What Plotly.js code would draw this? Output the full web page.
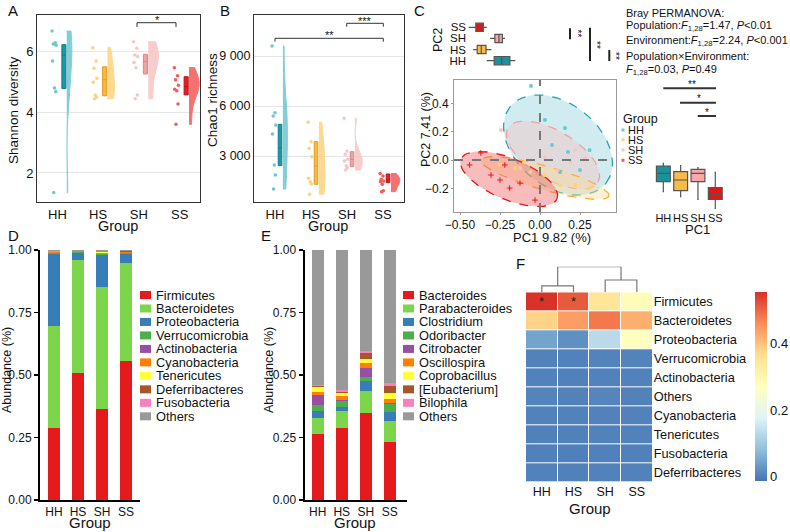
<!DOCTYPE html>
<html><head><meta charset="utf-8">
<script src="https://cdn.plot.ly/plotly-3.0.1.min.js"></script>
<style>body{margin:0;background:#fff}#chart{width:790px;height:532px}</style>
</head><body><div id="chart"></div>
<script>
// ---------------- DATA ----------------
const groups = ['HH','HS','SH','SS'];

// Panel A: Shannon diversity (per-sample values)
const shannonHH = [6.69,6.30,6.26,6.22,5.70,4.81,4.68,1.35];
const shannonHS = [6.14,5.70,5.46,5.13,5.00,4.58,4.50,4.45];
const shannonSH = [6.34,6.12,5.90,5.85,5.65,5.48,4.58,4.45];
const shannonSS = [5.48,5.21,5.08,4.90,4.77,4.72,4.28,3.61];
// Panel A box statistics
const shannonQ1  = [4.79,4.55,5.27,4.58];
const shannonMed = [5.90,5.08,5.68,4.85];
const shannonQ3  = [6.24,5.51,5.92,5.18];

// Panel B: Chao1 richness
const chaoHH = [9600,5600,5400,4860,4320,2460,1860,1020];
const chaoHS = [5020,3860,3460,2960,1660,1460,1320,700];
const chaoSH = [5260,3300,3100,2800,2700,2420,2300,2160];
const chaoSS = [1950,1800,1600,1500,1460,1300,920,860];
const chaoQ1  = [2420,1300,2360,1400];
const chaoMed = [3500,2400,2800,1600];
const chaoQ3  = [4900,3860,3260,1920];

// Panel C: PCoA sample scores
const pc1HH = [-0.056,0.156,0.075,0.25,0.175,0.031,0.31,0.125];
const pc2HH = [0.523,0.226,0.106,-0.071,0.057,0.283,0.07,-0.085];
const pc1HS = [-0.25,-0.156,-0.06,0.03,0.125,0.22,0.31,-0.094];
const pc2HS = [-0.035,-0.057,-0.085,-0.106,-0.177,-0.177,-0.198,-0.014];
const pc1SH = [-0.244,-0.19,0.03,0.19,0.22,0.11,-0.125,0.28];
const pc2SH = [0.212,0.11,0.02,-0.014,0.07,-0.07,-0.057,0.014];
const pc1SS = [-0.37,-0.306,-0.25,-0.19,-0.125,-0.031,-0.44,-0.22];
const pc2SS = [0.05,-0.106,-0.141,-0.198,-0.163,-0.283,-0.035,-0.035];
// confidence ellipses (centre, semi-axis vectors) for HH, HS, SH, SS
const ellCx = [0.1125,0.031,0.081,-0.194];
const ellCy = [0.106,-0.127,0.035,-0.134];
const ellAx = [0.300,0.400,0.281,0.300];
const ellAy = [-0.269,-0.127,-0.191,-0.141];
const ellBx = [0.161,0.020,0.077,0.049];
const ellBy = [0.230,0.081,0.146,0.134];
// marginal boxes (top: "PC2", right: "PC1"), relative units
const topLow = [0.29,0.09,0.34,0.025], topQ1=[0.40,0.15,0.41,0.13], topMed=[0.51,0.21,0.47,0.19], topQ3=[0.63,0.28,0.52,0.24], topHigh=[0.71,0.36,0.56,0.29];
const rgtLow = [0.366,0.266,0.214,0.034], rgtQ1=[0.566,0.386,0.566,0.214], rgtMed=[0.734,0.60,0.734,0.314], rgtQ3=[0.88,0.766,0.814,0.446], rgtHigh=[0.934,0.886,0.846,0.754];

// Panel D: phylum relative abundance
const phyla = ['Firmicutes','Bacteroidetes','Proteobacteria','Verrucomicrobia','Actinobacteria','Cyanobacteria','Tenericutes','Deferribacteres','Fusobacteria','Others'];
const phylumHH = [0.289,0.408,0.287,0.003,0.002,0.002,0.001,0.002,0.001,0.005];
const phylumHS = [0.507,0.453,0.030,0.002,0.001,0.002,0.001,0.001,0.000,0.003];
const phylumSH = [0.364,0.487,0.129,0.004,0.002,0.003,0.002,0.002,0.001,0.006];
const phylumSS = [0.557,0.390,0.036,0.004,0.002,0.003,0.002,0.002,0.001,0.003];

// Panel E: genus relative abundance
const genera = ['Bacteroides','Parabacteroides','Clostridium','Odoribacter','Citrobacter','Oscillospira','Coprobacillus','[Eubacterium]','Bilophila','Others'];
const genusHH = [0.264,0.063,0.029,0.024,0.040,0.011,0.020,0.005,0.003,0.541];
const genusHS = [0.289,0.067,0.017,0.024,0.004,0.016,0.010,0.005,0.008,0.560];
const genusSH = [0.347,0.089,0.040,0.017,0.034,0.022,0.016,0.022,0.009,0.404];
const genusSS = [0.233,0.083,0.037,0.031,0.003,0.018,0.024,0.027,0.013,0.531];

// Panel F: heatmap
const heatRows = ['Firmicutes','Bacteroidetes','Proteobacteria','Verrucomicrobia','Actinobacteria','Others','Cyanobacteria','Tenericutes','Fusobacteria','Deferribacteres'];
const heatZ = [
  [0.55,0.51,0.35,0.28],
  [0.38,0.44,0.48,0.42],
  [0.045,0.02,0.13,0.27],
  [0.003,0.002,0.004,0.004],
  [0.002,0.001,0.002,0.002],
  [0.005,0.003,0.006,0.003],
  [0.002,0.002,0.003,0.003],
  [0.001,0.001,0.002,0.002],
  [0.001,0.000,0.001,0.001],
  [0.002,0.001,0.002,0.002]
];
const heatStars = [{row:'Firmicutes',col:'HH'},{row:'Firmicutes',col:'HS'}];
const dendroH = [0.25,0.48,1.0]; // (HH,HS), (SH,SS), root

// ---------------- STYLE ----------------
const FONT = 'Liberation Sans, Arial, sans-serif';
const dark  = ['#1a98a6','#fbb83f','#f2a2a2','#ea1d24'];
const light = ['#6cc7cf','#fdd27c','#f9c4c4','#f55a5a'];
const lineC = ['#137f8b','#e49d22','#d98888','#c10f15'];
const boxC  = ['#1a919e','#f9bb48','#f7a9a9','#ee1111'];
const ellFill = ['rgba(120,200,215,0.35)','rgba(253,220,150,0.42)','rgba(250,190,190,0.38)','rgba(240,80,80,0.38)'];
const ellLine = ['#2aa4b2','#f5b13a','#f3a0a0','#e8141b'];
const phylaColors = ['#e41a1c','#7cd54a','#377eb8','#4daf4a','#984ea3','#ff7f00','#ffff33','#a65628','#f781bf','#999999'];
const generaColors = phylaColors;

const W=790,H=532;
const px=x=>x/W, py=y=>1-y/H;
const dX=(a,b)=>[px(a),px(b)], dY=(t,b)=>[py(b),py(t)];
const traces=[];
const layout={width:W,height:H,margin:{l:0,r:0,t:0,b:0,autoexpand:false},paper_bgcolor:'#fff',plot_bgcolor:'#fff',
  showlegend:false,barmode:'stack',font:{family:FONT,size:12,color:'#111'},annotations:[],shapes:[],
  boxmode:'overlay',violinmode:'overlay'};
function ann(x,y,text,size,o){layout.annotations.push(Object.assign({xref:'paper',yref:'paper',x:px(x),y:py(y),text:text,showarrow:false,font:{family:FONT,size:size,color:'#111'},xanchor:'center',yanchor:'middle'},o||{}));}
function seg(x0,y0,x1,y1,c,w){layout.shapes.push({type:'line',xref:'paper',yref:'paper',x0:px(x0),y0:py(y0),x1:px(x1),y1:py(y1),line:{color:c,width:w}});}
function rect(x0,y0,x1,y1,c){layout.shapes.push({type:'rect',xref:'paper',yref:'paper',x0:px(x0),y0:py(y0),x1:px(x1),y1:py(y1),fillcolor:c,line:{width:0}});}
const jit=[-0.05,0.03,-0.02,0.05,-0.04,0.01,0.04,-0.01];

// ---------------- PANELS A & B ----------------
function raincloud(xa,ya,sets,q1,med,q3,offs,vw){
  sets.forEach((arr,g)=>{
    const p=g+1;
    traces.push({type:'violin',xaxis:xa,yaxis:ya,x:arr.map(()=>p+offs[2]),y:arr,side:'positive',width:vw[g],
      spanmode:'hard',points:false,box:{visible:false},meanline:{visible:false},fillcolor:light[g],opacity:0.85,
      line:{color:light[g],width:1},hoverinfo:'skip',scalemode:'width'});
    traces.push({type:'box',xaxis:xa,yaxis:ya,x:[p+offs[1]],q1:[q1[g]],median:[med[g]],q3:[q3[g]],
      lowerfence:[q1[g]],upperfence:[q3[g]],width:offs[3],fillcolor:dark[g],line:{color:lineC[g],width:1},
      whiskerwidth:0,boxpoints:false,hoverinfo:'skip'});
    traces.push({type:'scatter',mode:'markers',xaxis:xa,yaxis:ya,x:arr.map((v,i)=>p+offs[0]+jit[i]),y:arr,
      marker:{size:3.5,color:light[g]},hoverinfo:'skip'});
  });
}
raincloud('x','y',[shannonHH,shannonHS,shannonSH,shannonSS],shannonQ1,shannonMed,shannonQ3,[-0.08,0.16,0.23,0.1],[0.25,0.34,0.5,0.5]);
raincloud('x2','y2',[chaoHH,chaoHS,chaoSH,chaoSS],chaoQ1,chaoMed,chaoQ3,[-0.03,0.14,0.22,0.1],[0.25,0.34,0.4,0.5]);

const boxAx={showgrid:false,zeroline:false,showline:true,mirror:true,linecolor:'#333',linewidth:1,ticks:'',tickfont:{size:13}};
layout.xaxis=Object.assign({},boxAx,{domain:dX(37,200),range:[0.5,4.5],tickvals:[1,2,3,4],ticktext:groups,anchor:'y'});
layout.yaxis=Object.assign({},boxAx,{domain:dY(15,202),range:[1.04,7.22],tickvals:[2,4,6],showgrid:true,gridcolor:'#e6e6e6',anchor:'x'});
layout.xaxis2=Object.assign({},boxAx,{domain:dX(254,404),range:[0.417,4.583],tickvals:[1,2,3,4],ticktext:groups,anchor:'y2'});
layout.yaxis2=Object.assign({},boxAx,{domain:dY(15,202),range:[240,11460],tickvals:[3000,6000,9000],ticktext:['3 000','6 000','9 000'],showgrid:true,gridcolor:'#e6e6e6',anchor:'x2',tickfont:{size:12.5}});

// ---------------- PANEL C ----------------
const pcs=[[pc1HH,pc2HH],[pc1HS,pc2HS],[pc1SH,pc2SH],[pc1SS,pc2SS]];
[0,2,1,3].forEach(g=>{
  const ex=[],ey=[];
  for(let k=0;k<=72;k++){const t=2*Math.PI*k/72;ex.push(ellCx[g]+ellAx[g]*Math.cos(t)+ellBx[g]*Math.sin(t));ey.push(ellCy[g]+ellAy[g]*Math.cos(t)+ellBy[g]*Math.sin(t));}
  traces.push({type:'scatter',mode:'lines',xaxis:'x3',yaxis:'y3',x:ex,y:ey,fill:'toself',fillcolor:ellFill[g],line:{color:ellLine[g],width:1.3,dash:'dash'},hoverinfo:'skip'});
});
pcs.forEach((d,g)=>{
  traces.push({type:'scatter',mode:'markers',xaxis:'x3',yaxis:'y3',x:d[0],y:d[1],
    marker:{size:g===3?4:2.5,symbol:g===3?'cross-thin':'square',color:light[g],line:{color:g===3?'#e8141b':light[g],width:1}},hoverinfo:'skip'});
});
layout.xaxis3={domain:dX(454,616),range:[-0.5375,0.475],tickvals:[-0.5,-0.25,0,0.25],tickformat:'.2f',showgrid:false,zeroline:false,showline:true,mirror:true,linecolor:'#999',ticks:'outside',ticklen:2,tickcolor:'#999',tickfont:{size:12},anchor:'y3'};
layout.yaxis3={domain:dY(80,212),range:[-0.367,0.565],tickvals:[-0.2,0,0.2,0.4],tickformat:'.1f',showgrid:false,zeroline:false,showline:true,mirror:true,linecolor:'#999',ticks:'outside',ticklen:2,tickcolor:'#999',tickfont:{size:12},anchor:'x3'};
layout.shapes.push({type:'line',xref:'x3',yref:'y3 domain',x0:0,x1:0,y0:0,y1:1,line:{color:'#777',width:2,dash:'dash'}});
layout.shapes.push({type:'line',xref:'x3 domain',yref:'y3',x0:0,x1:1,y0:0,y1:0,line:{color:'#777',width:2,dash:'dash'}});

groups.forEach((gname,g)=>{
  traces.push({type:'box',orientation:'h',xaxis:'x4',yaxis:'y4',y:[g+1],q1:[topQ1[g]],median:[topMed[g]],q3:[topQ3[g]],
    lowerfence:[topLow[g]],upperfence:[topHigh[g]],width:0.75,fillcolor:boxC[g],line:{color:'#555',width:1.2},whiskerwidth:0,boxpoints:false,hoverinfo:'skip'});
  traces.push({type:'box',xaxis:'x5',yaxis:'y5',x:[g+1],q1:[rgtQ1[g]],median:[rgtMed[g]],q3:[rgtQ3[g]],
    lowerfence:[rgtLow[g]],upperfence:[rgtHigh[g]],width:0.8,fillcolor:boxC[g],line:{color:'#555',width:1.2},whiskerwidth:0.1,boxpoints:false,hoverinfo:'skip'});
});
layout.xaxis4={domain:dX(467,535),range:[0,1],visible:false,anchor:'y4'};
layout.yaxis4={domain:dY(20,68),range:[0.34,4.66],tickvals:[1,2,3,4],ticktext:groups,showgrid:false,zeroline:false,showline:false,ticks:'',tickfont:{size:11.5},anchor:'x4'};
layout.xaxis5={domain:dX(650,730),range:[0.23,4.85],tickvals:[1,2,3,4],ticktext:groups,tickangle:0,showgrid:false,zeroline:false,showline:false,ticks:'',tickfont:{size:11},anchor:'y5'};
layout.yaxis5={domain:dY(160,210),range:[0,1],visible:false,anchor:'x5'};

// ---------------- PANELS D & E ----------------
function stacked(xa,ya,names,cols,sets){
  names.forEach((n,k)=>{
    traces.push({type:'bar',xaxis:xa,yaxis:ya,x:[1,2,3,4],y:sets.map(s=>s[k]),width:0.5,marker:{color:cols[k],line:{width:0}},name:n,hoverinfo:'skip'});
  });
}
stacked('x6','y6',phyla,phylaColors,[phylumHH,phylumHS,phylumSH,phylumSS]);
stacked('x7','y7',genera,generaColors,[genusHH,genusHS,genusSH,genusSS]);
const barX={showgrid:false,zeroline:false,showline:true,linecolor:'#000',linewidth:2,ticks:'',tickvals:[1,2,3,4],ticktext:groups,tickangle:0,tickfont:{size:12}};
const barY={range:[0,1],tickvals:[0,0.25,0.5,0.75,1],tickformat:'.2f',showgrid:false,zeroline:false,showline:true,linecolor:'#000',linewidth:2,ticks:'outside',ticklen:4,tickwidth:1.5,tickcolor:'#000',tickfont:{size:12}};
layout.xaxis6=Object.assign({},barX,{domain:dX(40,140),range:[0.417,4.583],anchor:'y6'});
layout.yaxis6=Object.assign({},barY,{domain:dY(250,500),anchor:'x6'});
layout.xaxis7=Object.assign({},barX,{domain:dX(304.5,406.7),range:[0.45,4.7],anchor:'y7'});
layout.yaxis7=Object.assign({},barY,{domain:dY(250,500),anchor:'x7'});

// legends D and E
phyla.forEach((n,k)=>{const y=295+k*13.48;rect(140,y-4,151,y+4,phylaColors[k]);ann(154,y,n,12.8,{xanchor:'left'});});
genera.forEach((n,k)=>{const y=295+k*13.48;rect(403,y-4,414,y+4,generaColors[k]);ann(417,y,n,12.8,{xanchor:'left'});});

// ---------------- PANEL F ----------------
const cs=[[0,'#4575B4'],[1/6,'#91BFDB'],[2/6,'#E0F3F8'],[3/6,'#FFFFBF'],[4/6,'#FEE090'],[5/6,'#FC8D59'],[1,'#D73027']];
traces.push({type:'heatmap',xaxis:'x8',yaxis:'y8',x:groups,y:heatRows,z:heatZ,
  colorscale:cs,zmin:-0.014,zmax:0.553,xgap:1,ygap:1,hoverinfo:'skip',
  colorbar:{x:px(755),xanchor:'left',xpad:0,ypad:0,y:py(387),yanchor:'middle',len:189.4/H,thickness:12,outlinewidth:0,
    tickvals:[0,0.2,0.4],ticktext:['0','0.2','0.4'],tickfont:{size:13,family:FONT},ticks:''}});
heatStars.forEach(s=>layout.annotations.push({xref:'x8',yref:'y8',x:s.col,y:s.row,text:'*',showarrow:false,font:{family:FONT,size:13,color:'#222'},yanchor:'middle'}));
layout.xaxis8={domain:dX(526,652.7),showgrid:false,zeroline:false,showline:false,ticks:'',tickangle:0,tickfont:{size:12.5},anchor:'y8'};
layout.yaxis8={domain:dY(292.3,482.3),autorange:'reversed',side:'right',showgrid:false,zeroline:false,showline:false,ticks:'',tickfont:{size:12.8},anchor:'x8'};
// dendrogram
const dxs=[0,0,1,1,null,2,2,3,3,null,0.5,0.5,2.5,2.5];
const dys=[0,dendroH[0],dendroH[0],0,null,0,dendroH[1],dendroH[1],0,null,dendroH[0],dendroH[2],dendroH[2],dendroH[1]];
traces.push({type:'scatter',mode:'lines',xaxis:'x9',yaxis:'y9',x:dxs,y:dys,line:{color:'#777',width:1.2},hoverinfo:'skip',connectgaps:false});
layout.xaxis9={domain:dX(526,652.7),range:[-0.5,3.5],visible:false,anchor:'y9'};
layout.yaxis9={domain:dY(266.7,292.3),range:[0,1],visible:false,anchor:'x9'};

// ---------------- TEXT ----------------
ann(13,11,'A',15); ann(225,11,'B',15); ann(420,11,'C',15); ann(13,236,'D',15); ann(266,236,'E',15); ann(520,263,'F',15);
ann(14,110,'Shannon diversity',13.5,{textangle:-90});
ann(118,226,'Group',14.5);
ann(212,100,'Chao1 richness',13.5,{textangle:-90});
ann(328,226,'Group',14.5);
ann(426,130,'PC2 7.41 (%)',12.5,{textangle:-90});
ann(552,237,'PC1 9.82 (%)',13);
ann(438,40,'PC2',12.5,{textangle:-90});
ann(697,229,'PC1',13);
ann(7,370,'Abundance (%)',12.5,{textangle:-90});
ann(269,370,'Abundance (%)',12.5,{textangle:-90});
ann(90,522,'Group',15);
ann(355,522,'Group',15);
ann(590,508,'Group',15);
// PERMANOVA
const perm=['Bray PERMANOVA:','Population:<i>F</i><sub>1,28</sub>=1.47, <i>P</i>&lt;0.01','Environment:<i>F</i><sub>1,28</sub>=2.24, <i>P</i>&lt;0.001','Population×Environment:','<i>F</i><sub>1,28</sub>=0.03, <i>P</i>=0.49'];
const permY=[12.7,26,40.7,55.7,70];
perm.forEach((t,i)=>ann(624,permY[i],t,11,{xanchor:'left'}));
// C legend
ann(621,118.5,'Group',12.5,{xanchor:'left'});
groups.forEach((gname,g)=>{const y=[130,139.8,150,160.3][g];rect(621.5,y-1.5,624.5,y+1.5,light[g]);ann(626,y,gname,11,{xanchor:'left'});});
// significance A
seg(137,27,137,22.7,'#333',1);seg(137,22.7,176,22.7,'#333',1);seg(176,22.7,176,27,'#333',1);
ann(157,20,'*',11);
// significance B
seg(346.7,26.7,346.7,23.3,'#333',1);seg(346.7,23.3,383.3,23.3,'#333',1);seg(383.3,23.3,383.3,26.7,'#333',1);
ann(365,20.5,'***',11);
seg(275,41.7,275,38.3,'#333',1);seg(275,38.3,383.3,38.3,'#333',1);seg(383.3,38.3,383.3,41.7,'#333',1);
ann(329,35.5,'**',11);
// significance C top boxes
seg(570,28.3,570,39.3,'#222',2); ann(577,33.5,'**',10,{textangle:90});
seg(590,27.7,590,61,'#222',2); ann(597,45,'**',10,{textangle:90});
seg(609.3,50,609.3,61,'#222',2); ann(616,56,'**',10,{textangle:90});
// significance C right boxes
seg(663.3,88.3,716,88.3,'#333',2); ann(691.7,84.5,'**',10);
seg(680,102.7,716,102.7,'#333',2); ann(699.3,98.5,'*',10);
seg(697.7,116,716,116,'#333',2); ann(707.3,112,'*',10);

Plotly.newPlot('chart',traces,layout,{staticPlot:true,displayModeBar:false});
</script></body></html>
